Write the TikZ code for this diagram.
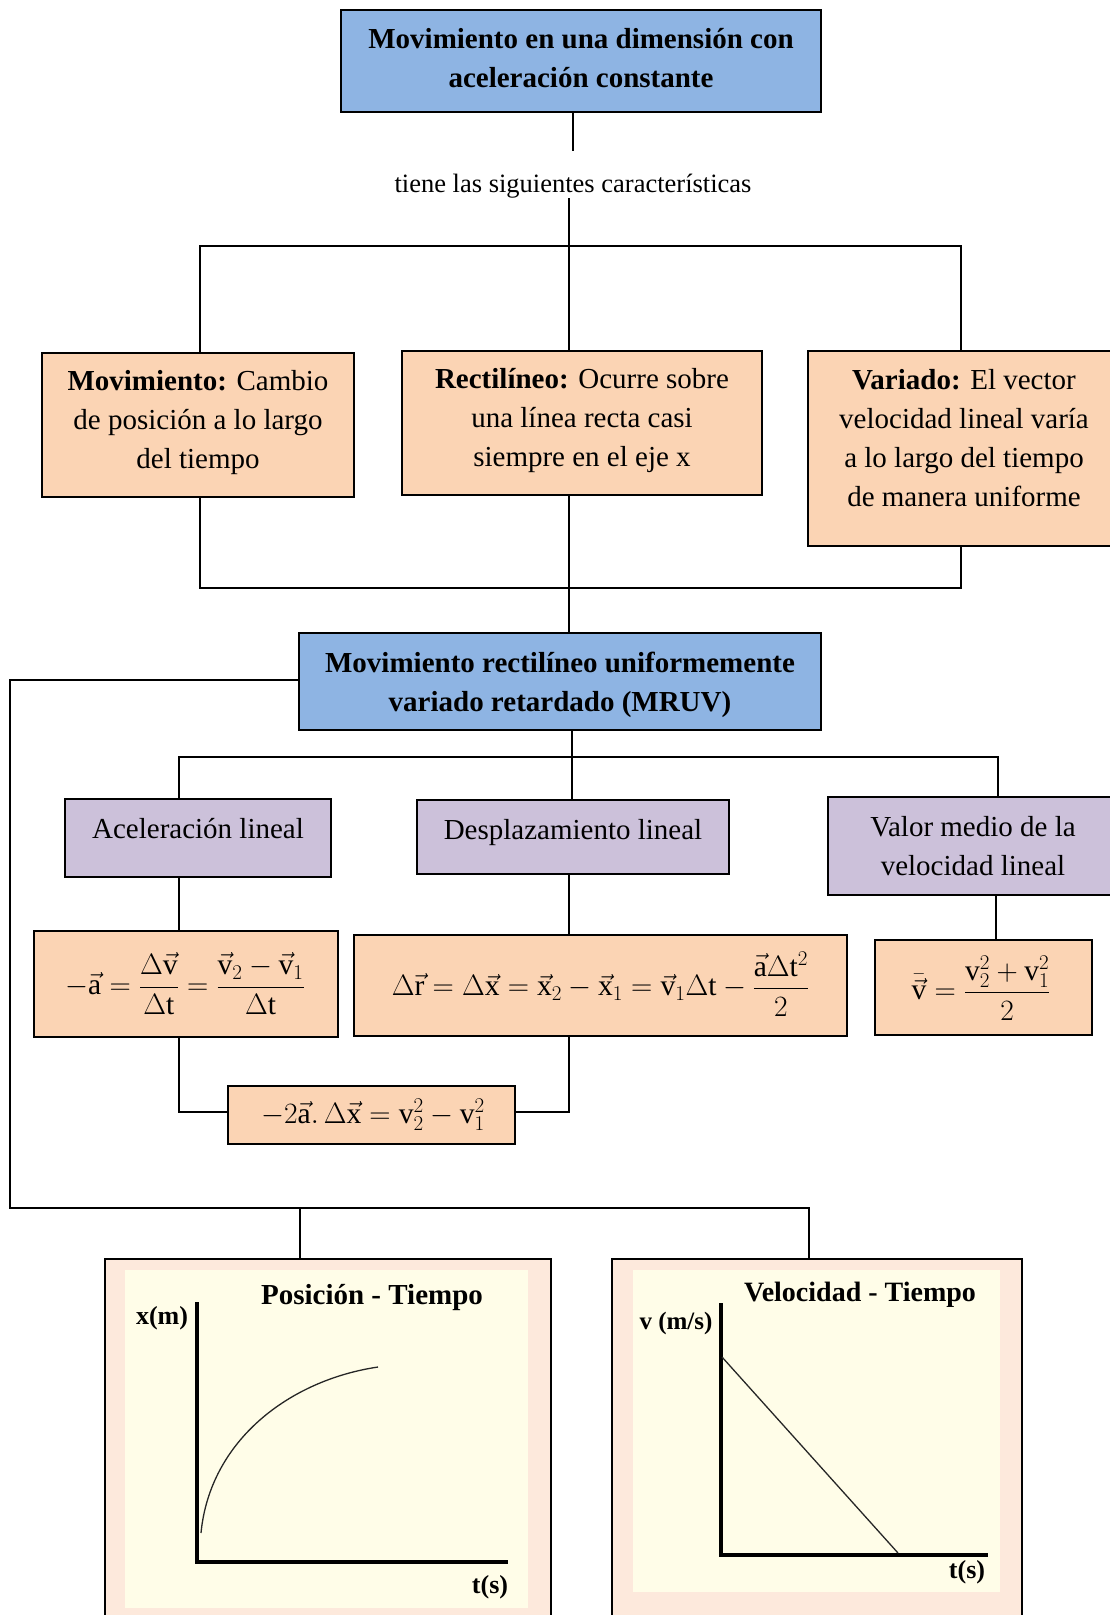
\RequirePackage{fix-cm}
\documentclass[tikz,border=0pt]{standalone}
\usepackage{fontspec}
\setmainfont{Liberation Serif}
\usetikzlibrary{calc}
\DeclareMathSizes{29.5}{29.5}{21}{16}

\definecolor{hdrblue}{HTML}{8EB4E3}
\definecolor{boxtan}{HTML}{FBD4B4}
\definecolor{lilac}{HTML}{CCC1DA}
\definecolor{graphpink}{HTML}{FDE9DC}
\definecolor{graphcream}{HTML}{FFFDE8}

\newcommand\vecu[1]{\vec{\mathrm{#1}}}
\newcommand\rmu[1]{\mathrm{#1}}

\tikzset{
  box/.style={draw, line width=2.6pt, inner sep=0pt},
  conn/.style={line width=1.8pt},
  txt/.style={align=center, inner sep=0pt, font=\fontsize{29}{39}\selectfont},
  eqn/.style={inner sep=0pt, font=\fontsize{29.5}{34}\selectfont},
  gtxt/.style={inner sep=0pt, font=\bfseries\fontsize{27}{30}\selectfont},
  axis/.style={line width=3.6pt},
}

\begin{document}
\begin{tikzpicture}[x=1pt, y=-1pt]
\useasboundingbox (0,0) rectangle (1110,1615);
\clip (0,0) rectangle (1110,1615);

% ---- title box ----
\node[box, fill=hdrblue, minimum width=480pt, minimum height=102pt] (t1) at (581,61) {};
\node[txt, font=\bfseries\fontsize{29}{39}\selectfont] (t1t) at (581,58)
  {Movimiento en una dimensión con\\aceleración constante};

\node[inner sep=0pt, font=\fontsize{26.5}{30}\selectfont] (lbl) at (573,186)
  {tiene las siguientes características};

% ---- three characteristics ----
\node[box, fill=boxtan, minimum width=312pt, minimum height=144pt] (c1) at (198,425) {};
\node[txt] (c1t) at (198,423)
  {\textbf{Movimiento:} Cambio\\de posición a lo largo\\del tiempo};
\node[box, fill=boxtan, minimum width=360pt, minimum height=144pt] (c2) at (582,423) {};
\node[txt] (c2t) at (582,421)
  {\textbf{Rectilíneo:} Ocurre sobre\\una línea recta casi\\siempre en el eje x};
\node[box, fill=boxtan, minimum width=312pt, minimum height=195pt] (c3) at (964,448.5) {};
\node[txt] (c3t) at (964,438)
  {\textbf{Variado:} El vector\\velocidad lineal varía\\a lo largo del tiempo\\de manera uniforme};

% ---- MRUV box ----
\node[box, fill=hdrblue, minimum width=522pt, minimum height=97pt] (m) at (560,681.5) {};
\node[txt, font=\bfseries\fontsize{29}{39}\selectfont] (mt) at (560,685)
  {Movimiento rectilíneo uniformemente\\variado retardado (MRUV)};

% ---- magnitudes ----
\node[box, fill=lilac, minimum width=266pt, minimum height=78pt] (p1) at (198,838) {};
\node[txt] (p1t) at (198,829) {Aceleración lineal};
\node[box, fill=lilac, minimum width=312pt, minimum height=74pt] (p2) at (573,837) {};
\node[txt] (p2t) at (573,833) {Desplazamiento lineal};
\node[box, fill=lilac, minimum width=292pt, minimum height=98pt] (p3) at (974,846) {};
\node[txt] (p3t) at (973,846) {Valor medio de la\\velocidad lineal};

% ---- equations ----
\node[box, fill=boxtan, minimum width=304pt, minimum height=106pt] (e1) at (186,984) {};
\node[eqn] (e1t) at (185,984)
  {$\displaystyle -\vecu{a}=\frac{\Delta\vecu{v}}{\Delta\rmu{t}}=\frac{\vecu{v}_2-\vecu{v}_1}{\Delta\rmu{t}}$};
\node[box, fill=boxtan, minimum width=493pt, minimum height=101pt] (e2) at (600.5,985.5) {};
\node[eqn] (e2t) at (600.5,984)
  {$\displaystyle \Delta\vecu{r}=\Delta\vecu{x}=\vecu{x}_2-\vecu{x}_1=\vecu{v}_1\Delta\rmu{t}-\frac{\vecu{a}\Delta\rmu{t}^2}{2}$};
\node[box, fill=boxtan, minimum width=217pt, minimum height=95pt] (e3) at (983.5,987.5) {};
\node[eqn] (e3t) at (981,988)
  {$\displaystyle \bar{\vecu{v}}=\frac{\rmu{v}_2^2+\rmu{v}_1^2}{2}$};
\node[box, fill=boxtan, minimum width=287pt, minimum height=58pt] (e4) at (371.5,1115) {};
\node[eqn] (e4t) at (373,1115)
  {$-2\vecu{a}.\,\Delta\vecu{x}=\rmu{v}_2^2-\rmu{v}_1^2$};

% ---- graph panels ----
\node[box, fill=graphpink, minimum width=446pt, minimum height=380pt] (g1) at (328,1449) {};
\node[box, fill=graphpink, minimum width=410pt, minimum height=380pt] (g2) at (817,1449) {};
\fill[graphcream] (125,1270) rectangle (528,1608);
\fill[graphcream] (633,1270) rectangle (1000,1592);

% position - time
\node[gtxt, font=\bfseries\fontsize{29}{32}\selectfont] (g1title) at (372,1297) {Posición - Tiempo};
\node[gtxt, font=\bfseries\fontsize{26}{30}\selectfont] (g1y) at (162,1318) {x(m)};
\node[gtxt, font=\bfseries\fontsize{26}{30}\selectfont] (g1x) at (490,1587) {t(s)};
\draw[axis] (197,1302) -- (197,1562) -- (508,1562);
\draw[line width=1.3pt, black!85] (201,1533) .. controls (210,1440) and (290,1380) .. (378,1367);

% velocity - time
\node[gtxt, font=\bfseries\fontsize{28}{32}\selectfont] (g2title) at (860,1295) {Velocidad - Tiempo};
\node[gtxt, font=\bfseries\fontsize{25}{30}\selectfont] (g2y) at (676,1323) {v (m/s)};
\node[gtxt, font=\bfseries\fontsize{26}{30}\selectfont] (g2x) at (967,1572) {t(s)};
\draw[axis] (721,1303) -- (721,1555) -- (988,1555);
\draw[line width=1.3pt, black!85] (722,1357) -- (898,1553);

% ---- connectors ----
\coordinate (busA) at (569,246);
\coordinate (aL) at (200,246);
\coordinate (aR) at (961,246);
\coordinate (bL) at (200,588);
\coordinate (bR) at (961,588);
\draw[conn] (t1.south -| lbl) -- ($(lbl.north)+(0,-23)$);
\draw[conn] (lbl.south -| busA) -- (c2.north -| busA);
\draw[conn] (aL |- c1.north) -- (aL) -- (aR) -- (aR |- c3.north);
\draw[conn] (bL |- c1.south) -- (bL) -- (bR) -- (bR |- c3.south);
\draw[conn] (busA |- c2.south) -- (busA |- m.north);

\coordinate (lTop) at (10,680);
\coordinate (lBot) at (10,1208);
\coordinate (rBot) at (809,1208);
\coordinate (gL) at (300,1208);
\draw[conn] (m.west |- lTop) -- (lTop) -- (lBot) -- (rBot) -- (rBot |- g2.north);
\draw[conn] (gL) -- (gL |- g1.north);

\coordinate (cL) at (179,757);
\coordinate (cM) at (572,757);
\coordinate (cR) at (998,757);
\draw[conn] (m.south -| cM) -- (cM);
\draw[conn] (cL |- p1.north) -- (cL) -- (cR) -- (cR |- p3.north);
\draw[conn] (cM) -- (cM |- p2.north);
\draw[conn] (p1.south -| cL) -- (e1.north -| cL);
\draw[conn] (p2.south -| busA) -- (e2.north -| busA);
\coordinate (eR) at (996,900);
\draw[conn] (p3.south -| eR) -- (e3.north -| eR);
\coordinate (fL) at (179,1112);
\coordinate (fR) at (569,1112);
\draw[conn] (e1.south -| fL) -- (fL) -- (fL -| e4.west);
\draw[conn] (fR -| e4.east) -- (fR) -- (fR |- e2.south);
\end{tikzpicture}
\end{document}
